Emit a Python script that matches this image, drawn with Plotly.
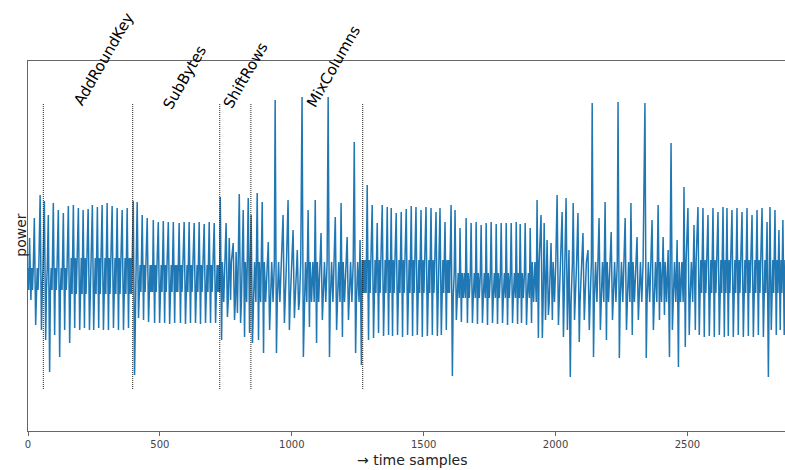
import plotly.graph_objects as go

# ---- data (power in arbitrary units, time in samples) ----
spike_s = [5, 23, 45, 61, 76, 95, 114, 133, 152, 171, 190, 208, 227, 243, 262, 280, 299, 318, 337, 356, 375, 398,
           413, 432, 451, 474, 493, 512, 531, 550, 572, 591, 610, 629, 648, 667, 686, 705, 728,
           750, 762, 777, 788, 800, 815, 834, 845, 868, 887, 910, 936, 966, 985, 1004, 1020, 1038, 1061, 1088,
           1110, 1137, 1164, 1186, 1209, 1236, 1258, 1285,
           1304, 1323, 1342, 1361, 1376, 1395, 1414, 1433, 1452, 1470, 1489, 1508, 1527, 1546, 1561, 1580, 1603,
           1618, 1637, 1660, 1679, 1698, 1717, 1736, 1755, 1774, 1793, 1812, 1831, 1850, 1865, 1884,
           1903, 1929, 1944, 1956, 1967, 1982, 2005, 2024, 2039, 2050, 2066, 2084, 2103, 2122, 2138, 2164, 2187,
           2210, 2236, 2263, 2285, 2308, 2338, 2365, 2388, 2407, 2426, 2437, 2460, 2486, 2501, 2524, 2539,
           2558, 2577, 2596, 2615, 2634, 2649, 2668, 2687, 2706, 2725, 2744, 2763, 2782, 2801, 2812, 2831, 2846, 2861]
spike_top = [44, 64, 87, 81, 67, 79, 72, 69, 76, 77, 74, 72, 73, 77, 75, 77, 79, 76, 74, 72, 74, 81,
             80, 67, 64, 62, 60, 61, 60, 60, 59, 60, 60, 59, 60, 58, 60, 59, 85,
             59, 44, 39, 30, 88, 72, 84, 67, 89, 80, 40, 182, 67, 82, 52, 32, 185, 72, 82,
             49, 185, 65, 79, 45, 140, 42, 97,
             77, 59, 77, 75, 74, 69, 70, 73, 76, 75, 72, 75, 74, 70, 74, 60, 77,
             72, 54, 64, 59, 60, 57, 59, 60, 58, 59, 59, 59, 60, 58, 59,
             54, 82, 67, 59, 42, 39, 87, 70, 84, 32, 79, 69, 49, 32, 179, 64, 80,
             50, 180, 64, 79, 45, 179, 62, 77, 45, 32, 139, 42, 95, 74, 57, 75,
             74, 67, 74, 70, 75, 74, 72, 74, 70, 74, 67, 72, 74, 60, 75, 72, 52, 62]
spike_bot = [-18, -43, -48, -58, -90, -53, -75, -48, -61, -46, -48, -46, -48, -48, -46, -48, -48, -46, -48, -48, -46, -93,
             -36, -38, -40, -41, -41, -41, -42, -41, -41, -42, -41, -41, -42, -41, -41, -41, -58,
             -35, -18, -38, -31, -41, -55, -51, -61, -58, -71, -48, -71, -41, -48, -36, -28, -75, -45, -61,
             -38, -75, -48, -55, -38, -71, -83, -58,
             -56, -51, -54, -53, -54, -53, -55, -53, -54, -53, -55, -54, -53, -54, -53, -48, -94,
             -38, -40, -41, -41, -42, -41, -43, -41, -42, -41, -43, -41, -42, -41, -43,
             -41, -56, -56, -38, -33, -38, -43, -55, -48, -95, -38, -60, -38, -48, -75, -48, -58,
             -38, -76, -48, -53, -38, -76, -48, -38, -33, -75, -48, -85, -65, -53, -48, -53,
             -55, -54, -55, -53, -55, -54, -55, -53, -55, -54, -55, -53, -55, -95, -48, -53, -48, -53]

# envelope of the dense baseline activity between the clock spikes, per time segment
band_edges = [0, 150, 398, 728, 1266, 1603, 1903, 2540, 2870]
band_hi = [14, 24, 17, 20, 22, 9, 20, 22]
band_lo = [-8, -12, -10, -20, -11, -16, -20, -11]

event_samples = [58, 397, 727, 845, 1269]
event_labels = ["AddRoundKey", "SubBytes", "ShiftRows", "MixColumns"]
label_samples = [288, 595, 826, 1160]

x_ticks = [0, 500, 1000, 1500, 2000, 2500]

# ---- build trace (spikes joined by the baseline band) ----
band_step = [3, 3, 3, 5, 3, 4, 5, 3]


def seg(s):
    for k in range(len(band_edges) - 1):
        if band_edges[k] <= s < band_edges[k + 1]:
            return k
    return len(band_hi) - 1


xs, ys = [], []
cur, phase = 0, 0
for s, t, b in zip(spike_s + [band_edges[-1] + 2], spike_top + [None], spike_bot + [None]):
    x = cur
    while x < s - 1:
        k = seg(x)
        xs.append(x)
        ys.append(band_hi[k] if phase % 2 == 0 else band_lo[k])
        phase += 1
        x += band_step[k]
    if t is None:
        break
    xs += [s + 1, s + 6]
    ys += [t, b]
    cur = s + 9

fig = go.Figure()
fig.add_trace(go.Scatter(x=xs, y=ys, mode="lines",
                         line=dict(color="#1f77b4", width=1.5), hoverinfo="skip", showlegend=False))

for e in event_samples:
    fig.add_shape(type="line", x0=e, x1=e, y0=-107, y1=178, xref="x", yref="y",
                  line=dict(color="#222", width=1, dash="1px,1px"), layer="above")

label_ypos = [1.005, 0.957, 0.962, 0.986]
for lab, xs_, yp in zip(event_labels, label_samples, label_ypos):
    fig.add_annotation(x=xs_, y=yp, xref="x", yref="paper", text=lab, showarrow=False,
                       textangle=-60, font=dict(family="DejaVu Sans", size=15, color="black"),
                       xanchor="center", yanchor="middle")

fig.add_annotation(x=0.507, y=-0.078, xref="paper", yref="paper", text="→ time samples",
                   showarrow=False, font=dict(family="DejaVu Sans", size=14, color="#222"),
                   xanchor="center", yanchor="middle")
fig.add_annotation(x=-0.0095, y=0.53, xref="paper", yref="paper", text="power", textangle=-90,
                   showarrow=False, font=dict(family="DejaVu Sans", size=14, color="#222"),
                   xanchor="center", yanchor="middle")

fig.update_layout(
    width=785, height=470,
    margin=dict(l=28, r=0, t=61, b=39),
    paper_bgcolor="white", plot_bgcolor="white",
    showlegend=False,
    xaxis=dict(range=[0, 2870], tickvals=x_ticks, ticks="outside", ticklen=4, tickcolor="#666",
               showline=True, linecolor="#666", linewidth=1.2, mirror=True, showgrid=False,
               zeroline=False, tickfont=dict(family="DejaVu Sans", size=10, color="#444")),
    yaxis=dict(range=[-149, 221], showticklabels=False, ticks="", showline=True, linecolor="#666",
               linewidth=1.2, mirror=False, showgrid=False, zeroline=False),
)

fig.write_html("out.html")
